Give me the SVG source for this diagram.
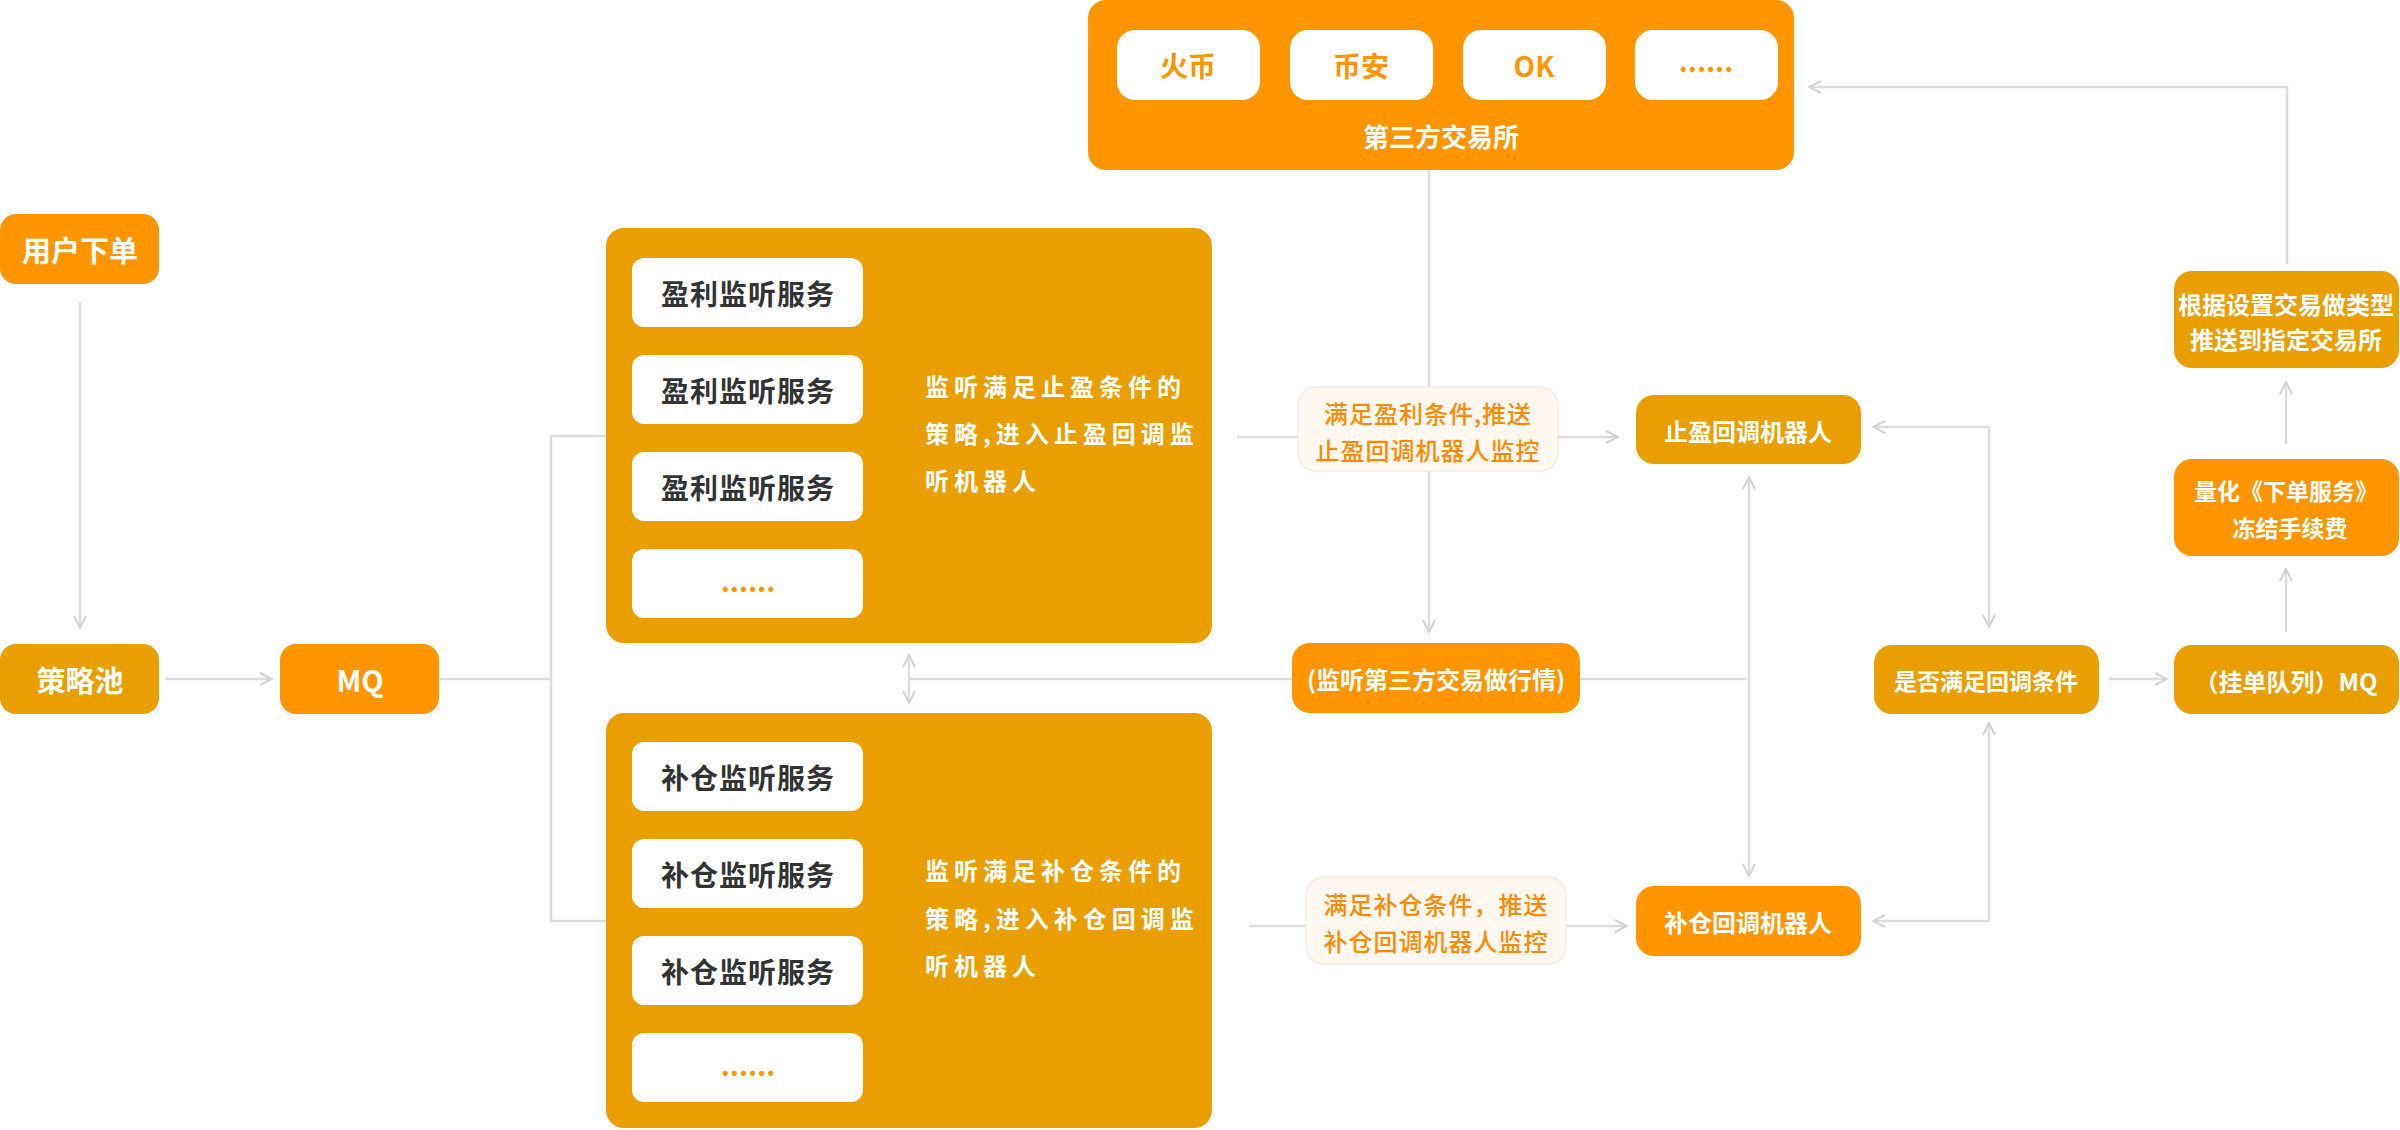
<svg xmlns="http://www.w3.org/2000/svg" width="2400" height="1130" viewBox="0 0 2400 1130">
<defs>
<style>
text{font-family:"Noto Sans CJK SC","Noto Sans",sans-serif;dominant-baseline:central;text-anchor:middle}
.gold{fill:#E99E01}
.org{fill:#FF9601}
.wt{fill:#fff;font-weight:700}
.item{fill:#fff}
.itxt{fill:#333;font-weight:700;font-size:28px;letter-spacing:1px}
.desc{fill:#fff;font-weight:700;font-size:24px;letter-spacing:5px;text-anchor:start}
.lbl{fill:#FFF8F1;stroke:#F2ECE6;stroke-width:1.5}
.ltxt{fill:#FF8A00;font-weight:500;font-size:24px;letter-spacing:1px}
.btxt{fill:#FF9601;font-weight:700;font-size:28px}
.ln{fill:none;stroke:#DCDCDC;stroke-width:2.5}
</style>
<marker id="ah" viewBox="0 0 14 14" refX="13" refY="7" markerWidth="14" markerHeight="14" markerUnits="userSpaceOnUse" orient="auto-start-reverse">
<path d="M1,1 L13,7 L1,13" fill="none" stroke="#D2D2D2" stroke-width="2"/>
</marker>
</defs>
<rect width="2400" height="1130" fill="#fff"/>

<g id="connectors">
<line class="ln" x1="80" y1="302" x2="80" y2="628" marker-end="url(#ah)"/>
<line class="ln" x1="165" y1="679" x2="272" y2="679" marker-end="url(#ah)"/>
<polyline class="ln" points="440,679 551,679"/>
<polyline class="ln" points="606,436 551,436 551,921 606,921"/>
<line class="ln" x1="1429" y1="170" x2="1429" y2="632" marker-end="url(#ah)"/>
<line class="ln" x1="1237" y1="437" x2="1618" y2="437" marker-end="url(#ah)"/>
<line class="ln" x1="1249" y1="926" x2="1627" y2="926" marker-end="url(#ah)"/>
<line class="ln" x1="1292" y1="679" x2="909" y2="679"/>
<line class="ln" x1="909" y1="655" x2="909" y2="703" marker-start="url(#ah)" marker-end="url(#ah)"/>
<line class="ln" x1="1580" y1="679" x2="1747" y2="679"/>
<line class="ln" x1="1749" y1="477" x2="1749" y2="876" marker-start="url(#ah)" marker-end="url(#ah)"/>
<polyline class="ln" points="1873,427 1989,427 1989,627" marker-start="url(#ah)" marker-end="url(#ah)"/>
<polyline class="ln" points="1873,921 1989,921 1989,723" marker-start="url(#ah)" marker-end="url(#ah)"/>
<line class="ln" x1="2109" y1="679" x2="2167" y2="679" marker-end="url(#ah)"/>
<line class="ln" x1="2286" y1="632" x2="2286" y2="569" marker-end="url(#ah)"/>
<line class="ln" x1="2286" y1="444" x2="2286" y2="382" marker-end="url(#ah)"/>
<polyline class="ln" points="2287,264 2287,87 1809,87" marker-end="url(#ah)"/>
</g>

<g id="user-order">
<rect class="org" x="0" y="214" width="159" height="70" rx="16"/>
<text class="wt" x="80" y="249" font-size="29">用户下单</text>
</g>

<g id="strategy-pool">
<rect class="gold" x="0" y="644" width="159" height="70" rx="16"/>
<text class="wt" x="80" y="679" font-size="29">策略池</text>
</g>

<g id="mq">
<rect class="org" x="280" y="644" width="159" height="70" rx="16"/>
<text class="wt" x="360" y="679" font-size="29">MQ</text>
</g>

<g id="profit-container">
<rect class="gold" x="606" y="228" width="606" height="415" rx="18"/>
<rect class="item" x="632" y="258" width="231" height="69" rx="12"/>
<text class="itxt" x="748" y="293">盈利监听服务</text>
<rect class="item" x="632" y="355" width="231" height="69" rx="12"/>
<text class="itxt" x="748" y="390">盈利监听服务</text>
<rect class="item" x="632" y="452" width="231" height="69" rx="12"/>
<text class="itxt" x="748" y="487">盈利监听服务</text>
<rect class="item" x="632" y="549" width="231" height="69" rx="12"/>
<text class="btxt" x="748" y="580">......</text>
<text class="desc" x="925" y="385">监听满足止盈条件的</text>
<text class="desc" x="925" y="432">策略,进入止盈回调监</text>
<text class="desc" x="925" y="479">听机器人</text>
</g>

<g id="cover-container">
<rect class="gold" x="606" y="713" width="606" height="415" rx="18"/>
<rect class="item" x="632" y="742" width="231" height="69" rx="12"/>
<text class="itxt" x="748" y="777">补仓监听服务</text>
<rect class="item" x="632" y="839" width="231" height="69" rx="12"/>
<text class="itxt" x="748" y="874">补仓监听服务</text>
<rect class="item" x="632" y="936" width="231" height="69" rx="12"/>
<text class="itxt" x="748" y="971">补仓监听服务</text>
<rect class="item" x="632" y="1033" width="231" height="69" rx="12"/>
<text class="btxt" x="748" y="1064">......</text>
<text class="desc" x="925" y="869">监听满足补仓条件的</text>
<text class="desc" x="925" y="917">策略,进入补仓回调监</text>
<text class="desc" x="925" y="964">听机器人</text>
</g>

<g id="exchanges">
<rect class="org" x="1088" y="0" width="706" height="170" rx="18"/>
<rect class="item" x="1117" y="30" width="143" height="70" rx="18"/>
<text class="btxt" x="1188" y="65">火币</text>
<rect class="item" x="1290" y="30" width="143" height="70" rx="18"/>
<text class="btxt" x="1361" y="65">币安</text>
<rect class="item" x="1463" y="30" width="143" height="70" rx="18"/>
<text class="btxt" x="1534" y="65">OK</text>
<rect class="item" x="1635" y="30" width="143" height="70" rx="18"/>
<text class="btxt" x="1706" y="60">......</text>
<text class="wt" x="1441" y="135" font-size="26" font-weight="500">第三方交易所</text>
</g>

<g id="label-profit">
<rect class="lbl" x="1298" y="387" width="260" height="84" rx="18"/>
<text class="ltxt" x="1428" y="412">满足盈利条件,推送</text>
<text class="ltxt" x="1428" y="449">止盈回调机器人监控</text>
</g>

<g id="label-cover">
<rect class="lbl" x="1306" y="877" width="260" height="87" rx="18"/>
<text class="ltxt" x="1436" y="903">满足补仓条件，推送</text>
<text class="ltxt" x="1436" y="940">补仓回调机器人监控</text>
</g>

<g id="market-watch">
<rect class="org" x="1292" y="643" width="288" height="70" rx="18"/>
<text class="wt" x="1436" y="678" font-size="24">(监听第三方交易做行情)</text>
</g>

<g id="tp-robot">
<rect class="gold" x="1636" y="395" width="225" height="69" rx="18"/>
<text class="wt" x="1748" y="430" font-size="24">止盈回调机器人</text>
</g>

<g id="cover-robot">
<rect class="org" x="1636" y="886" width="225" height="70" rx="18"/>
<text class="wt" x="1748" y="921" font-size="24">补仓回调机器人</text>
</g>

<g id="check-callback">
<rect class="gold" x="1874" y="645" width="225" height="69" rx="18"/>
<text class="wt" x="1986" y="680" font-size="23">是否满足回调条件</text>
</g>

<g id="order-queue">
<rect class="gold" x="2174" y="645" width="225" height="69" rx="18"/>
<text class="wt" x="2286" y="680" font-size="24">（挂单队列）MQ</text>
</g>

<g id="freeze-fee">
<rect class="org" x="2174" y="459" width="225" height="97" rx="18"/>
<text class="wt" x="2286" y="490" font-size="23">量化《下单服务》</text>
<text class="wt" x="2290" y="527" font-size="23">冻结手续费</text>
</g>

<g id="push-exchange">
<rect class="gold" x="2174" y="271" width="225" height="97" rx="18"/>
<text class="wt" x="2286" y="303" font-size="24">根据设置交易做类型</text>
<text class="wt" x="2286" y="338" font-size="24">推送到指定交易所</text>
</g>
</svg>
